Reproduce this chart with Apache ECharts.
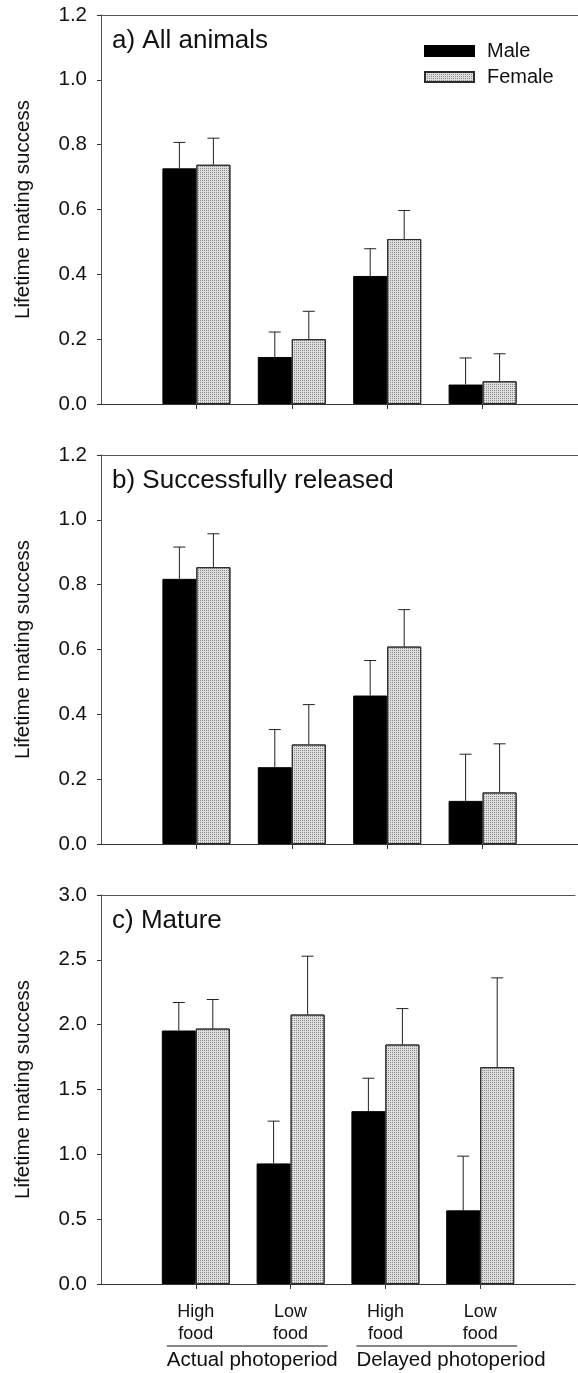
<!DOCTYPE html>
<html>
<head>
<meta charset="utf-8">
<script src="https://cdn.jsdelivr.net/npm/echarts@6/dist/echarts.min.js"></script>
<style>
html,body{margin:0;padding:0;background:#fff;overflow:hidden;}
#chart{width:578px;height:1373px;}
</style>
</head>
<body>
<div id="chart"></div>
<script>
// ---- data ----
const categories = ['High\nfood', 'Low\nfood', 'High\nfood', 'Low\nfood'];
const groupLabels = ['Actual photoperiod', 'Delayed photoperiod'];
const seriesNames = ['Male', 'Female'];
const panelTitles = ['a) All animals', 'b) Successfully released', 'c) Mature'];
const yMax = [1.2, 1.2, 3.0];
const yStep = [0.2, 0.2, 0.5];

const maleA = [0.727, 0.145, 0.395, 0.060];
const maleAUpper = [0.807, 0.222, 0.479, 0.142];
const femaleA = [0.738, 0.200, 0.509, 0.070];
const femaleAUpper = [0.820, 0.286, 0.597, 0.155];

const maleB = [0.818, 0.237, 0.458, 0.133];
const maleBUpper = [0.916, 0.353, 0.566, 0.277];
const femaleB = [0.854, 0.307, 0.609, 0.159];
const femaleBUpper = [0.957, 0.430, 0.723, 0.309];

const maleC = [1.955, 0.930, 1.333, 0.568];
const maleCUpper = [2.171, 1.256, 1.587, 0.986];
const femaleC = [1.970, 2.078, 1.847, 1.672];
const femaleCUpper = [2.194, 2.528, 2.124, 2.361];

const panels = [
  {male: maleA, maleUp: maleAUpper, female: femaleA, femaleUp: femaleAUpper},
  {male: maleB, maleUp: maleBUpper, female: femaleB, femaleUp: femaleBUpper},
  {male: maleC, maleUp: maleCUpper, female: femaleC, femaleUp: femaleCUpper}
];

// ---- styling ----
const FONT = "'Liberation Sans', Arial, Helvetica, sans-serif";
const BAR_W = 34;
const gridTops = [15, 455, 895];
const gridH = 389;
const axisData = [''].concat(categories, ['']);

const chart = echarts.init(document.getElementById('chart'), null, {renderer: 'canvas'});

const grids = [], xAxes = [], yAxes = [], series = [], titles = [];
panels.forEach((p, k) => {
  grids.push({left: 101, right: -3, top: gridTops[k], height: gridH});
  xAxes.push({
    type: 'category', gridIndex: k, data: axisData, boundaryGap: false,
    axisLine: {lineStyle: {color: '#333', width: 1}},
    axisTick: {show: true, length: 5, interval: (i) => i >= 1 && i <= categories.length,
      lineStyle: {color: '#333'}},
    axisLabel: {show: k === 2, interval: 0, fontFamily: FONT, fontSize: 18, color: '#111',
      lineHeight: 22, margin: 17},
    splitLine: {show: false}
  });
  titles.push({text: panelTitles[k], left: 112, top: gridTops[k] + 13, padding: 0,
    textStyle: {fontFamily: FONT, fontSize: 26, fontWeight: 'normal', color: '#111'}});
  yAxes.push({
    type: 'value', gridIndex: k, min: 0, max: yMax[k], interval: yStep[k],
    name: 'Lifetime mating success', nameLocation: 'middle', nameGap: 67, nameRotate: 90,
    nameTextStyle: {fontFamily: FONT, fontSize: 20.5, color: '#111'},
    axisLine: {show: true, lineStyle: {color: '#555', width: 1}},
    axisTick: {show: true, length: 4, lineStyle: {color: '#333'}},
    axisLabel: {fontFamily: FONT, fontSize: 20.5, color: '#111', margin: 14,
      formatter: (v) => v.toFixed(1)},
    splitLine: {show: false}
  });

  const sets = [
    {name: seriesNames[0], vals: p.male, up: p.maleUp,
      style: {color: '#000', borderColor: '#000', borderWidth: 1}, off: -BAR_W / 2},
    {name: seriesNames[1], vals: p.female, up: p.femaleUp,
      style: {color: '#dedede', borderColor: '#2a2a2a', borderWidth: 1,
        decal: {symbol: 'rect', symbolSize: 1, dashArrayX: [1, 1], dashArrayY: [1, 1],
          color: 'rgba(70,70,70,0.55)'}}, off: BAR_W / 2}
  ];
  sets.forEach((s) => {
    series.push({
      type: 'bar', name: s.name, xAxisIndex: k, yAxisIndex: k,
      barWidth: BAR_W, barGap: '0%',
      itemStyle: s.style,
      data: s.vals.map((v, i) => [i + 1, v]),
      z: 2
    });
  });
  sets.forEach((s) => {
    series.push({
      type: 'custom', name: s.name + ' error', xAxisIndex: k, yAxisIndex: k,
      data: s.vals.map((v, i) => [i + 1, v, s.up[i]]),
      z: 3, silent: true,
      renderItem: (params, api) => {
        const base = api.coord([api.value(0), api.value(1)]);
        const top = api.coord([api.value(0), api.value(2)]);
        const x = base[0] + s.off;
        const st = {stroke: '#222', lineWidth: 1};
        return {type: 'group', children: [
          {type: 'line', shape: {x1: x, y1: base[1], x2: x, y2: top[1]}, style: st},
          {type: 'line', shape: {x1: x - 6, y1: top[1], x2: x + 6, y2: top[1]}, style: st}
        ]};
      }
    });
  });
});
// top frame lines (one per panel)
panels.forEach((p, k) => {
  xAxes.push({
    type: 'category', gridIndex: k, data: axisData, boundaryGap: false, position: 'top',
    axisLine: {show: true, lineStyle: {color: '#555', width: 1}},
    axisTick: {show: false}, axisLabel: {show: false}, splitLine: {show: false}
  });
});

chart.setOption({
  animation: false,
  backgroundColor: '#fff',
  title: titles,
  legend: {
    data: seriesNames, orient: 'vertical', left: 424, top: 41, padding: 0,
    itemWidth: 49, itemHeight: 10, itemGap: 6, icon: 'rect',
    textStyle: {fontFamily: FONT, fontSize: 20, color: '#111', padding: [0, 0, 0, 8]}
  },
  grid: grids, xAxis: xAxes, yAxis: yAxes, series: series
});

// group labels under bottom panel, positioned from the axis scale
const g = [];
const pos = (i) => chart.convertToPixel({xAxisIndex: 2, yAxisIndex: 2}, [i, 0]);
groupLabels.forEach((lab, j) => {
  const a = pos(1 + 2 * j), b = pos(2 + 2 * j);
  const x1 = a[0] - BAR_W + 5, x2 = b[0] + BAR_W + 3;
  g.push({type: 'line', shape: {x1: x1, y1: a[1] + 62, x2: x2, y2: a[1] + 62},
    style: {stroke: '#111', lineWidth: 1.2}});
  g.push({type: 'text', left: x1, top: a[1] + 66,
    style: {text: lab, font: '20.5px ' + FONT, fill: '#111'}});
});
chart.setOption({graphic: g});
</script>
</body>
</html>
